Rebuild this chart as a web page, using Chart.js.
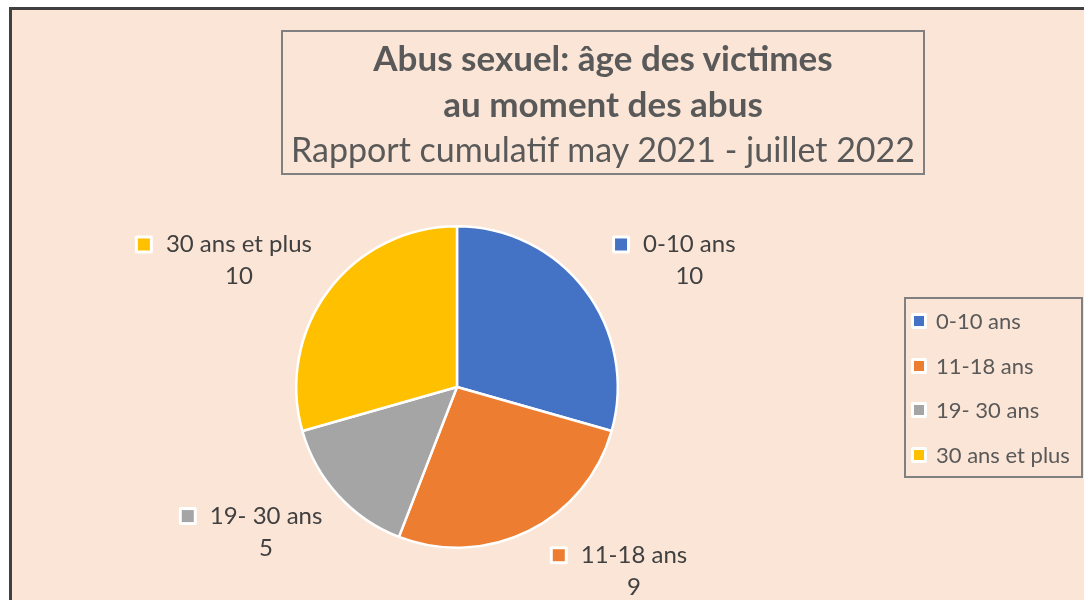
<!DOCTYPE html>
<html lang="fr">
<head>
    <meta charset="UTF-8">
    <title>Abus sexuel</title>
    <script src="https://cdn.jsdelivr.net/npm/chart.js"></script>
    <style>
        body {
            margin: 0;
            width: 1084px;
            height: 600px;
            overflow: hidden;
            background: #fff;
            font-family: Lato, sans-serif;
            position: relative;
        }

        #cadre {
            position: absolute;
            left: 9px;
            top: 7px;
            width: 1100px;
            height: 620px;
            border: 3px solid #404040;
            background: #fbe5d6;
        }

        #grafico {
            position: absolute;
            left: 0;
            top: 0;
        }

        #titulo {
            position: absolute;
            left: 281px;
            top: 30px;
            width: 640px;
            height: 141px;
            border: 2px solid #808080;
            text-align: center;
            color: #595959;
        }

        #titulo div {
            height: 46px;
            line-height: 46px;
            font-size: 34px;
            white-space: nowrap;
        }

        #titulo .gras {
            font-weight: bold;
            font-size: 35px;
        }

        #legende {
            position: absolute;
            left: 904px;
            top: 297px;
            width: 175px;
            height: 177px;
            border: 2px solid #808080;
            color: #595959;
            font-size: 22px;
        }

        .item {
            position: absolute;
            left: 0;
            height: 30px;
            line-height: 30px;
            white-space: nowrap;
        }

        .marque {
            position: absolute;
            left: 5px;
            top: 7px;
            width: 10px;
            height: 10px;
            border: 3px solid #fff;
            border-radius: 2px;
        }

        .item span {
            position: absolute;
            left: 30px;
        }
    </style>
</head>

<body>
    <div id="cadre"></div>
    <canvas id="grafico" width="1084" height="600"></canvas>

    <div id="titulo">
        <div class="gras" style="margin-top:2px">Abus sexuel: âge des victimes</div>
        <div class="gras">au moment des abus</div>
        <div>Rapport cumulatif may 2021 - juillet 2022</div>
    </div>

    <div id="legende"></div>

    <script>
    // dados do gráfico
    var categorias = ['0-10 ans', '11-18 ans', '19- 30 ans', '30 ans et plus'];
    var valores = [10, 9, 5, 10];
    var cores = ['#4472c4', '#ed7d31', '#a5a5a5', '#ffc000'];

    // legenda à direita
    var legende = document.getElementById('legende');
    for (var i = 0; i < categorias.length; i++) {
        var item = legende.appendChild(document.createElement('div'));
        item.className = 'item';
        item.style.top = (7 + i * 44.7) + 'px';
        item.innerHTML = '<div class="marque" style="background:' + cores[i] + '"></div><span>' + categorias[i] + '</span>';
    }

    // rótulos de dados fora da pizza
    var rotulos = {
        id: 'rotulos',
        afterDatasetsDraw: function (chart) {
            var ctx = chart.ctx;
            var arcos = chart.getDatasetMeta(0).data;
            ctx.save();
            ctx.font = '24px Lato';
            ctx.textBaseline = 'middle';
            for (var i = 0; i < arcos.length; i++) {
                var a = arcos[i];
                var meio = (a.startAngle + a.endAngle) / 2;
                var r = a.outerRadius + 16;
                var px = a.x + Math.cos(meio) * r;
                var py = a.y + Math.sin(meio) * r;
                var larguraNome = ctx.measureText(categorias[i]).width;
                var largura = 31 + larguraNome;
                var altura = 58;
                var esq = Math.cos(meio) >= 0 ? px + 14 : px - 4 - largura;
                var topo = Math.sin(meio) < 0 ? py + 9 - altura : py - 3;

                // marcador
                ctx.fillStyle = '#fff';
                ctx.beginPath();
                ctx.roundRect(esq, topo + 4, 18, 18, 2);
                ctx.fill();
                ctx.fillStyle = cores[i];
                ctx.fillRect(esq + 3, topo + 7, 12, 12);

                ctx.fillStyle = '#404040';
                ctx.textAlign = 'left';
                ctx.fillText(categorias[i], esq + 31, topo + 13);
                ctx.textAlign = 'center';
                ctx.fillText(String(valores[i]), esq + 31 + larguraNome / 2, topo + 45);
            }
            ctx.restore();
        }
    };

    var grafico = new Chart(document.getElementById('grafico').getContext('2d'), {
        type: 'pie',
        data: {
            labels: categorias,
            datasets: [{
                data: valores,
                backgroundColor: cores,
                borderColor: '#ffffff',
                borderWidth: 2.5
            }]
        },
        options: {
            responsive: false,
            devicePixelRatio: 1,
            animation: false,
            layout: {
                padding: { left: 295, right: 465, top: 225, bottom: 51 }
            },
            plugins: {
                legend: { display: false },
                tooltip: { enabled: false }
            }
        },
        plugins: [rotulos]
    });
    </script>
</body>

</html>
